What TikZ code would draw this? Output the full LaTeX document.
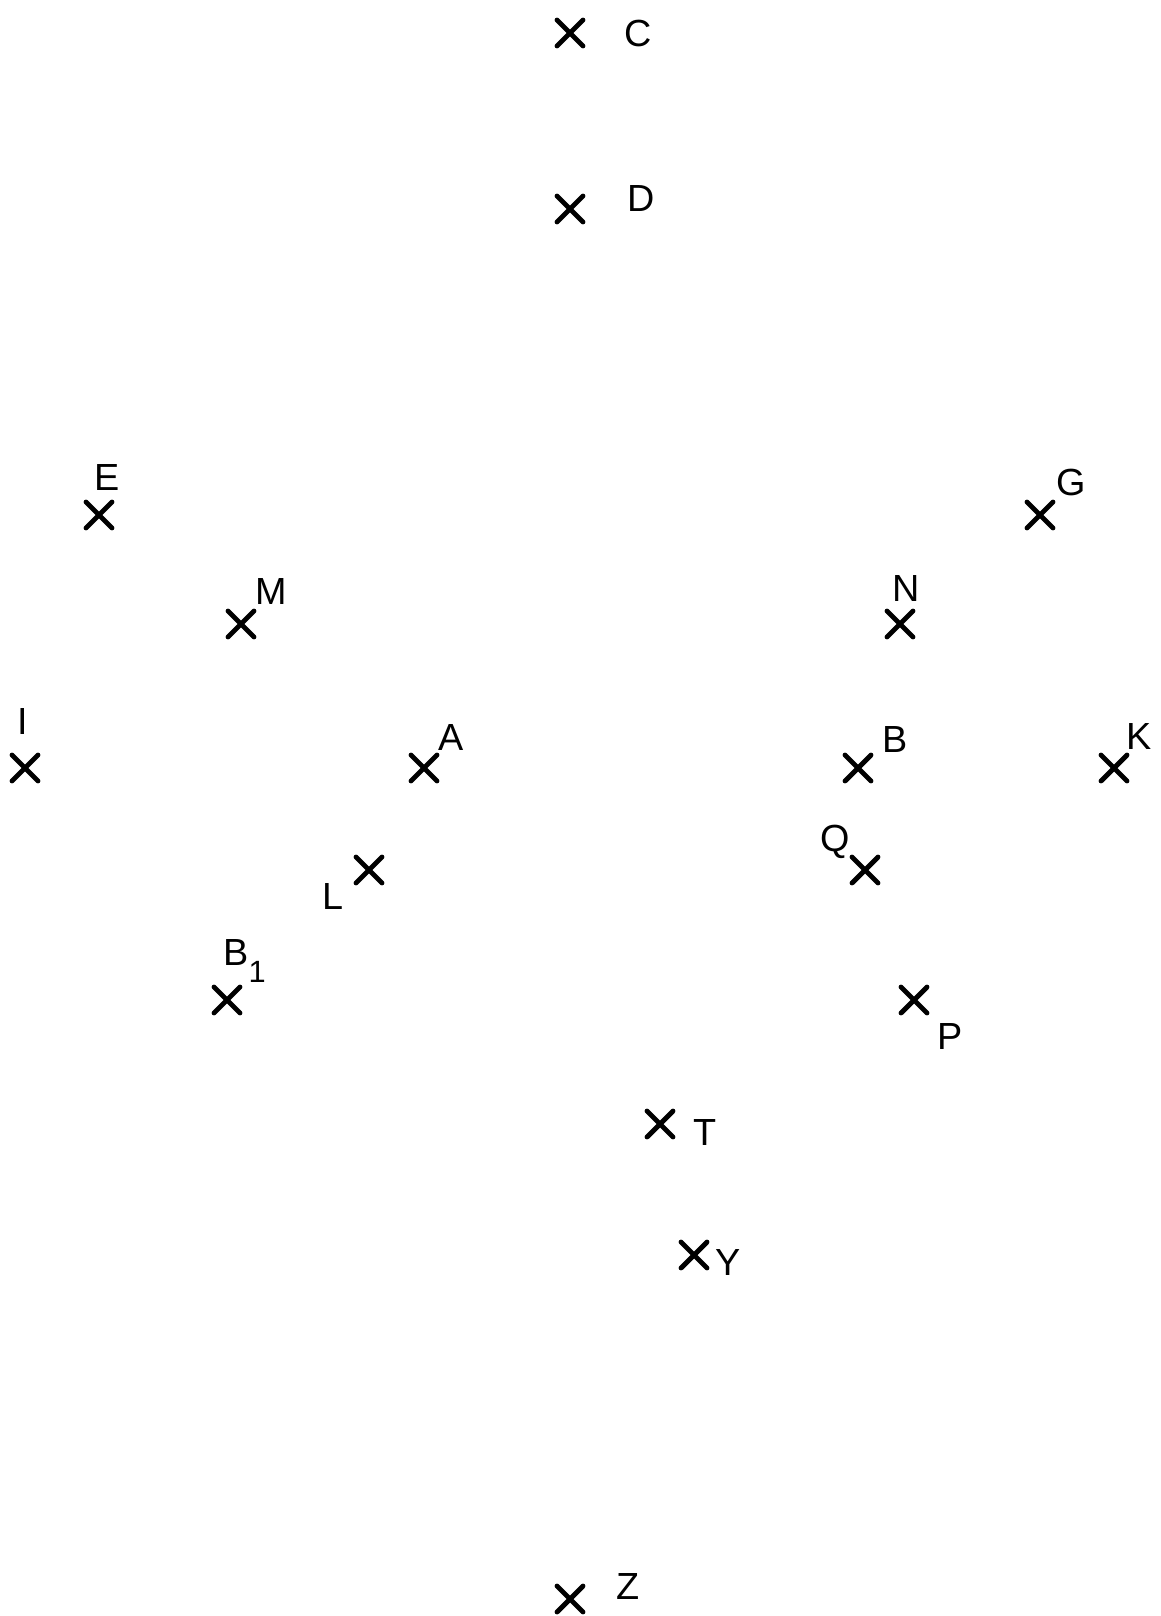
\documentclass[tikz,border=0pt]{standalone}
\usepackage{fontspec}
\setmainfont{Liberation Sans}
\usetikzlibrary{shapes.misc}
\begin{document}
\begin{tikzpicture}[
        x={(0.02cm,0cm)},
        y={(0cm,-0.02cm)},
        xmark/.style={cross out, draw=black, line width=2.8pt, line cap=round, minimum size=0.42cm, inner sep=0pt},
        lbl/.style={inner sep=0pt, font=\fontsize{21.5}{24}\selectfont}
    ]
    \useasboundingbox (0,0) rectangle (1160,1616);

    % marks
    \node[xmark] (C) at (570,33) {};
    \node[xmark] (D) at (570,209) {};
    \node[xmark] (E) at (99,515) {};
    \node[xmark] (M) at (241,624) {};
    \node[xmark] (I) at (25,768) {};
    \node[xmark] (A) at (424,768) {};
    \node[xmark] (L) at (369,870) {};
    \node[xmark] (B1) at (227,1000) {};
    \node[xmark] (G) at (1040,515) {};
    \node[xmark] (N) at (900,624) {};
    \node[xmark] (B) at (858,768) {};
    \node[xmark] (K) at (1114,768) {};
    \node[xmark] (Q) at (865,870) {};
    \node[xmark] (P) at (914,1000) {};
    \node[xmark] (T) at (660,1124) {};
    \node[xmark] (Y) at (694,1255) {};
    \node[xmark] (Z) at (570,1599) {};

    % labels
    \node[lbl] (Clab) at (638,33) {C};
    \node[lbl] (Dlab) at (641,199) {D};
    \node[lbl] (Elab) at (107,477) {E};
    \node[lbl] (Mlab) at (271,591) {M};
    \node[lbl] (Ilab) at (23,721) {I};
    \node[lbl] (Alab) at (451,737) {A};
    \node[lbl] (Llab) at (333,896) {L};
    \node[lbl, anchor=base west] (B1lab) at (223,965) {B\raisebox{-0.45em}{\fontsize{17.5}{20}\selectfont 1}};
    \node[lbl] (Glab) at (1071,482) {G};
    \node[lbl] (Nlab) at (906,588) {N};
    \node[lbl] (Blab) at (895,739) {B};
    \node[lbl] (Klab) at (1139,736) {K};
    \node[lbl, anchor=base] (Qlab) at (835,851) {Q};
    \node[lbl] (Plab) at (950,1036) {P};
    \node[lbl] (Tlab) at (705,1132) {T};
    \node[lbl] (Ylab) at (728,1262) {Y};
    \node[lbl] (Zlab) at (628,1586) {Z};
\end{tikzpicture}
\end{document}
